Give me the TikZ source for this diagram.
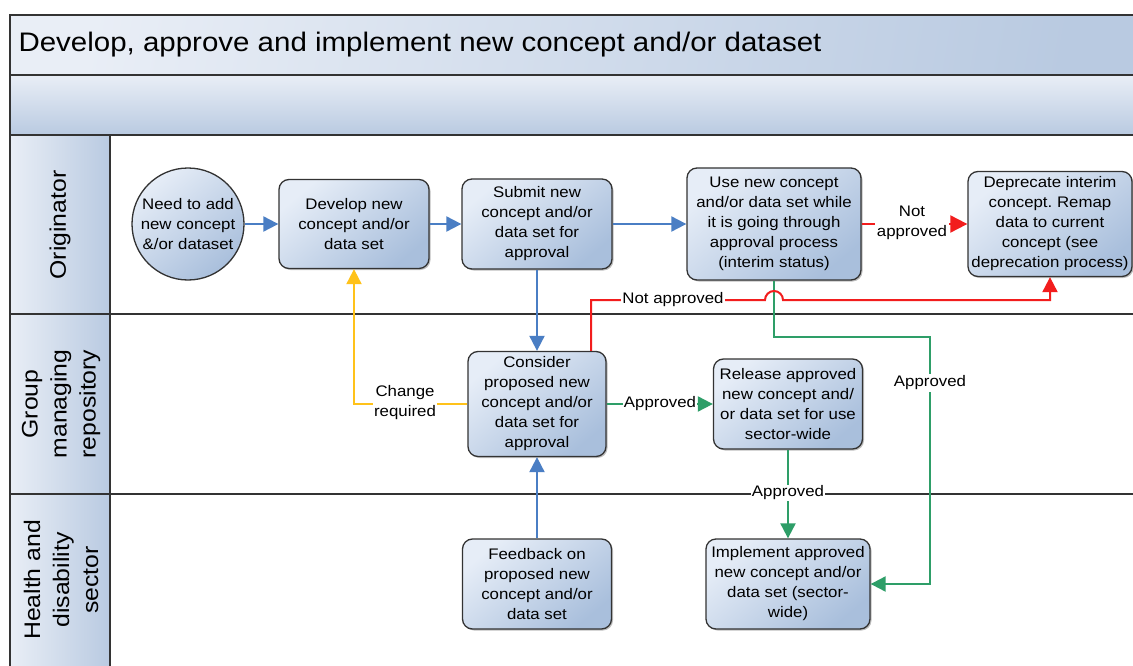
\documentclass[tikz,border=0pt]{standalone}
\usepackage{fontspec}
\setmainfont{Liberation Sans}[FakeStretch=1.1]
\usetikzlibrary{arrows.meta,shadows,calc}
\definecolor{hdrL}{HTML}{E9EEF6}
\definecolor{hdrR}{HTML}{B9CAE1}
\definecolor{nodeT}{HTML}{E6EDF7}
\definecolor{nodeB}{HTML}{A9BFDC}
\definecolor{frame}{HTML}{333333}
\definecolor{cblue}{HTML}{4A7EC4}
\definecolor{cgreen}{HTML}{2E9E68}
\definecolor{cred}{HTML}{F21D1D}
\definecolor{cyel}{HTML}{FFC21A}
\newcommand\nfnt{\fontsize{15.3}{20}\selectfont}
\newcommand\lfnt{\fontsize{22.5}{29}\selectfont}
\newcommand\tfnt{\fontsize{26.8}{30}\selectfont}
\frenchspacing
\begin{document}
\begin{tikzpicture}[x=1pt,y=-1pt,
  >={Triangle[length=15pt,width=15pt]},
  box/.style={draw=frame, line width=1.3pt, rounded corners=10pt,
    top color=nodeT, bottom color=nodeB, shading angle=40,
    align=center, inner sep=0pt, font=\nfnt,
    drop shadow={shadow xshift=1.5pt,shadow yshift=-1.5pt,fill=black,opacity=0.25}},
  startnode/.style={circle, draw=frame, line width=1.3pt,
    top color=nodeT, bottom color=nodeB, shading angle=40,
    align=center, inner sep=0pt, font=\nfnt, minimum size=112pt},
  lbl/.style={fill=white, inner sep=1.5pt, align=center, font=\nfnt},
  lane/.style={draw=frame, line width=1.6pt},
  lanelbl/.style={rotate=90, align=center, font=\lfnt},
  bl/.style={draw=cblue, line width=2pt, ->},
  gr/.style={draw=cgreen, line width=2pt, ->},
  rd/.style={draw=cred, line width=2pt, ->},
  yl/.style={draw=cyel, line width=2pt, ->}
]
\useasboundingbox (0,0) rectangle (1133,666);
\fill[white] (0,0) rectangle (1133,666);
% bands
\shade[left color=hdrL, right color=hdrR, shading angle=80] (10,15) rectangle (1145,75);
\shade[top color=hdrL, bottom color=hdrR] (10,75) rectangle (1145,135);
\shade[left color=hdrL, right color=hdrR] (10,135) rectangle (110,680);
\draw[lane] (10,680) -- (10,15) -- (1145,15);
\draw[lane] (10,75) -- (1145,75);
\draw[lane] (10,135) -- (1145,135);
\draw[lane] (10,314) -- (1145,314);
\draw[lane] (10,494) -- (1145,494);
\draw[lane] (110,135) -- (110,680);
\node[anchor=base west, font=\tfnt] (title) at (15,52) {Develop, approve and implement new concept and/or dataset};
\node[lanelbl] (l1) at (60,225) {Originator};
\node[lanelbl] (l2) at (61,404) {Group\\managing\\repository};
\node[lanelbl] (l3) at (61,580) {Health and\\disability\\sector};
% nodes
\node[startnode] (start) at (188,224) {Need to add\\new concept\\\&/or dataset};
\node[box, minimum width=150pt, minimum height=89pt] (a2) at (354,224) {Develop new\\concept and/or\\data set};
\node[box, minimum width=150pt, minimum height=90pt] (a3) at (537,224) {Submit new\\concept and/or\\data set for\\approval};
\node[box, minimum width=174pt, minimum height=112pt] (a4) at (774,224) {Use new concept\\and/or data set while\\it is going through\\approval process\\(interim status)};
\node[box, minimum width=164pt, minimum height=105pt] (a5) at (1050,224) {Deprecate interim\\concept. Remap\\data to current\\concept (see\\deprecation process)};
\node[box, minimum width=138pt, minimum height=105pt] (b1) at (537,404) {Consider\\proposed new\\concept and/or\\data set for\\approval};
\node[box, minimum width=149pt, minimum height=90pt] (b2) at (788,404) {Release approved\\new concept and/\\or data set for use\\sector-wide};
\node[box, minimum width=164pt, minimum height=90pt] (c1) at (788,584) {Implement approved\\new concept and/or\\data set (sector-\\wide)};
\node[box, minimum width=149pt, minimum height=90pt] (c2) at (537,584) {Feedback on\\proposed new\\concept and/or\\data set};
% connectors
\draw[bl] (start) -- (a2);
\draw[bl] (a2) -- (a3);
\draw[bl] (a3) -- (a4);
\draw[bl] (a3) -- (b1);
\draw[bl] (c2) -- (b1);
\draw[rd, -{Triangle[length=17pt,width=17pt]}] (a4) -- (a5);
\node[lbl] (na1) at (912,223) {Not\\approved};
\draw[yl] (b1.west) -| (a2.south);
\node[lbl] (cr) at (405,403) {Change\\required};
\coordinate (r1) at ([xshift=54pt]b1.north);
\draw[gr] (a4.south) |- (930,337) |- (c1.east);
\node[lbl] (ap3) at (930,383) {Approved};
\draw[rd] (r1) -- (591,300) -- (765,300) arc[start angle=180,end angle=0,radius=9pt] -- (a5.south |- 0,300) -- (a5.south);
\node[lbl] (na2) at (673,300) {Not approved};
\draw[gr] (b1) -- (b2);
\node[lbl, inner sep=0.5pt] (ap1) at (660,404) {Approved};
\draw[gr] (b2) -- (c1);
\node[lbl, inner sep=0.5pt] (ap2) at (788,493) {Approved};
\end{tikzpicture}
\end{document}
